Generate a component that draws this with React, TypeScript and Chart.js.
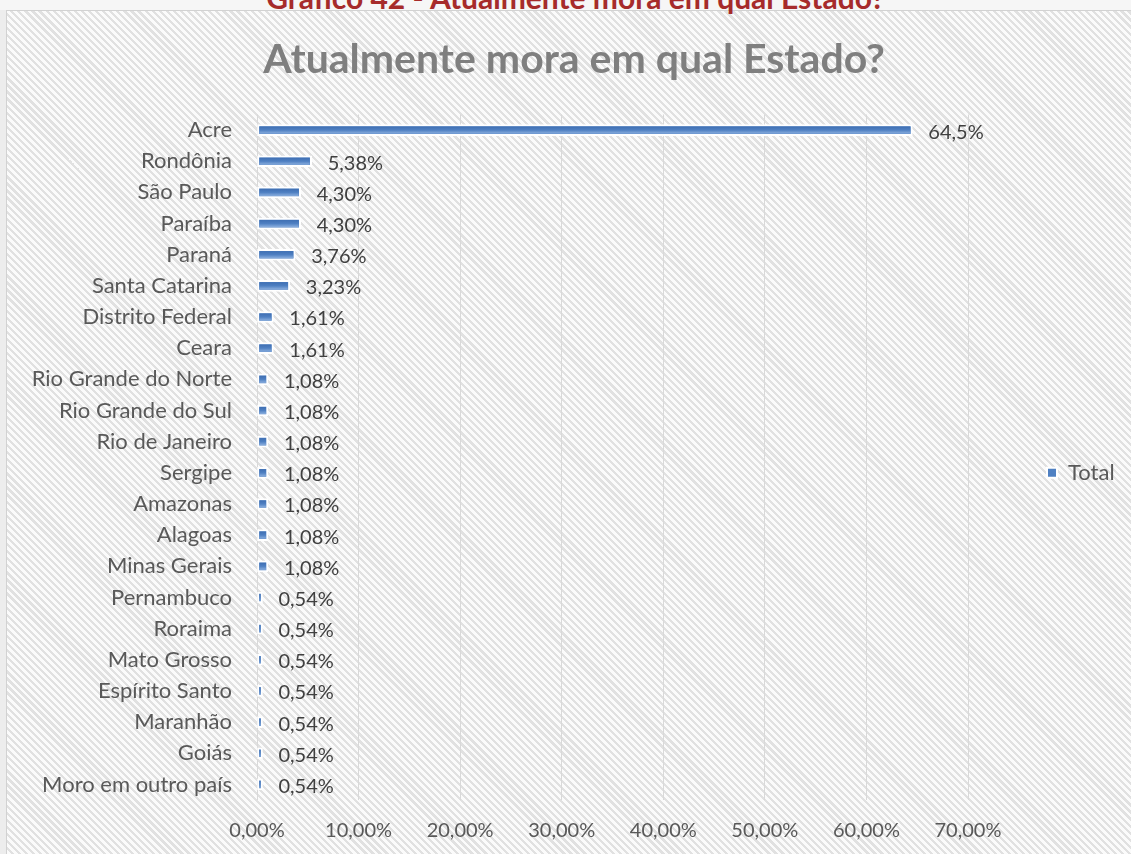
import React, { useEffect, useRef } from 'react';
import { Chart, registerables } from 'chart.js';

Chart.register(...registerables);

const categories = [
  'Acre', 'Rondônia', 'São Paulo', 'Paraíba', 'Paraná', 'Santa Catarina',
  'Distrito Federal', 'Ceara', 'Rio Grande do Norte', 'Rio Grande do Sul',
  'Rio de Janeiro', 'Sergipe', 'Amazonas', 'Alagoas', 'Minas Gerais',
  'Pernambuco', 'Roraima', 'Mato Grosso', 'Espírito Santo', 'Maranhão',
  'Goiás', 'Moro em outro país',
];

const totalValues = [
  64.52, 5.38, 4.30, 4.30, 3.76, 3.23, 1.61, 1.61, 1.08, 1.08, 1.08,
  1.08, 1.08, 1.08, 1.08, 0.54, 0.54, 0.54, 0.54, 0.54, 0.54, 0.54,
];

const xTickValues = [0, 10, 20, 30, 40, 50, 60, 70];

const seriesName = 'Total';
const chartTitle = 'Atualmente mora em qual Estado?';
const figureCaption = 'Gráfico 42 - Atualmente mora em qual Estado?';

const FONT = 'Lato';

function formatPct(v: number): string {
  const s = v >= 10 ? v.toFixed(1) : v.toFixed(2);
  return s.replace('.', ',') + '%';
}

function formatTick(v: number): string {
  return v.toFixed(2).replace('.', ',') + '%';
}

const barStylePlugin = {
  id: 'barStyle',
  afterDatasetsDraw(chart: any) {
    const ctx = chart.ctx as CanvasRenderingContext2D;
    const meta = chart.getDatasetMeta(0);
    ctx.save();
    meta.data.forEach((el: any) => {
      const { x, y, base, height } = el.getProps(['x', 'y', 'base', 'height'], true);
      const bw = 2;
      const left = Math.min(base, x) + bw;
      const right = Math.max(base, x) - bw;
      const top = y - height / 2 + bw;
      const bottom = y + height / 2 - bw;
      if (right <= left) return;
      const g = ctx.createLinearGradient(0, top, 0, bottom);
      g.addColorStop(0, '#3f6fb3');
      g.addColorStop(0.5, '#4f80c2');
      g.addColorStop(1, '#8aaede');
      ctx.fillStyle = g;
      ctx.fillRect(left, top, right - left, bottom - top);
    });
    ctx.font = `20px ${FONT}`;
    ctx.fillStyle = '#404040';
    ctx.textAlign = 'left';
    ctx.textBaseline = 'middle';
    meta.data.forEach((el: any, i: number) => {
      const { x, y } = el.getProps(['x', 'y'], true);
      ctx.fillText(formatPct(totalValues[i]), x + 16, y + 2);
    });
    ctx.restore();
  },
};

export default function App() {
  const canvasRef = useRef<HTMLCanvasElement | null>(null);

  useEffect(() => {
    const canvas = canvasRef.current;
    if (!canvas) return;

    const W = 1131;
    const H = 854;
    const plotLeft = 257;
    const plotRight = 968;
    const plotTop = 114.5;
    const plotBottom = 800;
    const legendFont = 22;
    const legendBox = 10;
    const legendGap = 79;
    const titleSize = 41;

    const m = document.createElement('canvas').getContext('2d')!;
    m.font = `${legendFont}px ${FONT}`;
    const tw = m.measureText(seriesName).width;
    const legendWidth = legendGap + legendBox + legendFont / 2 + tw + 10;
    const padR = W - plotRight - legendWidth;
    const titleCenter = 574;
    const padL = 2 * titleCenter - W + padR;
    const titlePadTop = 35;

    const chart = new Chart(canvas, {
      type: 'bar',
      data: {
        labels: categories,
        datasets: [
          {
            label: seriesName,
            data: totalValues,
            backgroundColor: '#4f80c2',
            borderColor: '#ffffff',
            borderWidth: 2,
            borderSkipped: false,
            barThickness: 11,
          },
        ],
      },
      options: {
        indexAxis: 'y',
        responsive: false,
        animation: false,
        events: [],
        layout: { padding: { left: padL, right: padR, top: 0, bottom: 0 } },
        scales: {
          x: {
            type: 'linear',
            min: 0,
            max: 70,
            afterBuildTicks: (scale: any) => {
              scale.ticks = xTickValues.map((v) => ({ value: v }));
            },
            afterFit: (scale: any) => {
              scale.height = H - plotBottom;
            },
            ticks: {
              callback: (v: any) => formatTick(Number(v)),
              color: '#595959',
              font: { family: FONT, size: 20 },
              padding: 19,
            },
            grid: { color: '#d9d9d9', lineWidth: 1, drawTicks: false },
            border: { display: false },
          },
          y: {
            afterFit: (scale: any) => {
              scale.width = plotLeft - padL;
            },
            ticks: {
              autoSkip: false,
              color: '#595959',
              font: { family: FONT, size: 22 },
              padding: 25,
            },
            grid: { display: false, drawTicks: false },
            border: { display: false },
          },
        },
        plugins: {
          title: {
            display: true,
            text: chartTitle,
            color: '#7f7f7f',
            font: { family: FONT, size: titleSize, weight: 'bold' },
            padding: { top: titlePadTop, bottom: plotTop - titlePadTop - titleSize * 1.2 },
          },
          legend: {
            display: true,
            position: 'right',
            fullSize: false,
            align: 'center',
            title: {
              display: true,
              text: ' ',
              padding: { top: 30, bottom: 0 },
              font: { size: 1 },
            },
            labels: {
              color: '#595959',
              font: { family: FONT, size: legendFont },
              boxWidth: legendBox,
              boxHeight: legendBox,
              padding: legendGap,
            },
          },
          tooltip: { enabled: false },
        },
      },
      plugins: [barStylePlugin],
    });

    return () => {
      chart.destroy();
    };
  }, []);

  const hatch =
    'repeating-linear-gradient(45deg, #e1e1e1 0px, #e1e1e1 2.3px, #fbfbfb 2.3px, #fbfbfb 5px)';

  return (
    <div
      style={{
        position: 'absolute',
        left: 0,
        top: 0,
        width: 1131,
        height: 854,
        overflow: 'hidden',
        background: '#ededed',
      }}
    >
      <div
        style={{
          position: 'absolute',
          left: 0,
          top: 0,
          width: 1131,
          height: 10,
          background: '#f6f6f6',
        }}
      />
      <div
        style={{
          position: 'absolute',
          left: 6,
          top: 10,
          width: 1140,
          height: 860,
          border: '1px solid #d2d2d2',
          background: hatch,
        }}
      />
      <div
        style={{
          position: 'absolute',
          left: 0,
          top: -18,
          width: 1151,
          textAlign: 'center',
          fontFamily: FONT,
          fontWeight: 'bold',
          fontSize: 30,
          lineHeight: '30px',
          color: '#a62b2b',
          whiteSpace: 'nowrap',
        }}
      >
        {figureCaption}
      </div>
      <canvas
        ref={canvasRef}
        width={1131}
        height={854}
        style={{ position: 'absolute', left: 0, top: 0, width: 1131, height: 854 }}
      />
    </div>
  );
}
